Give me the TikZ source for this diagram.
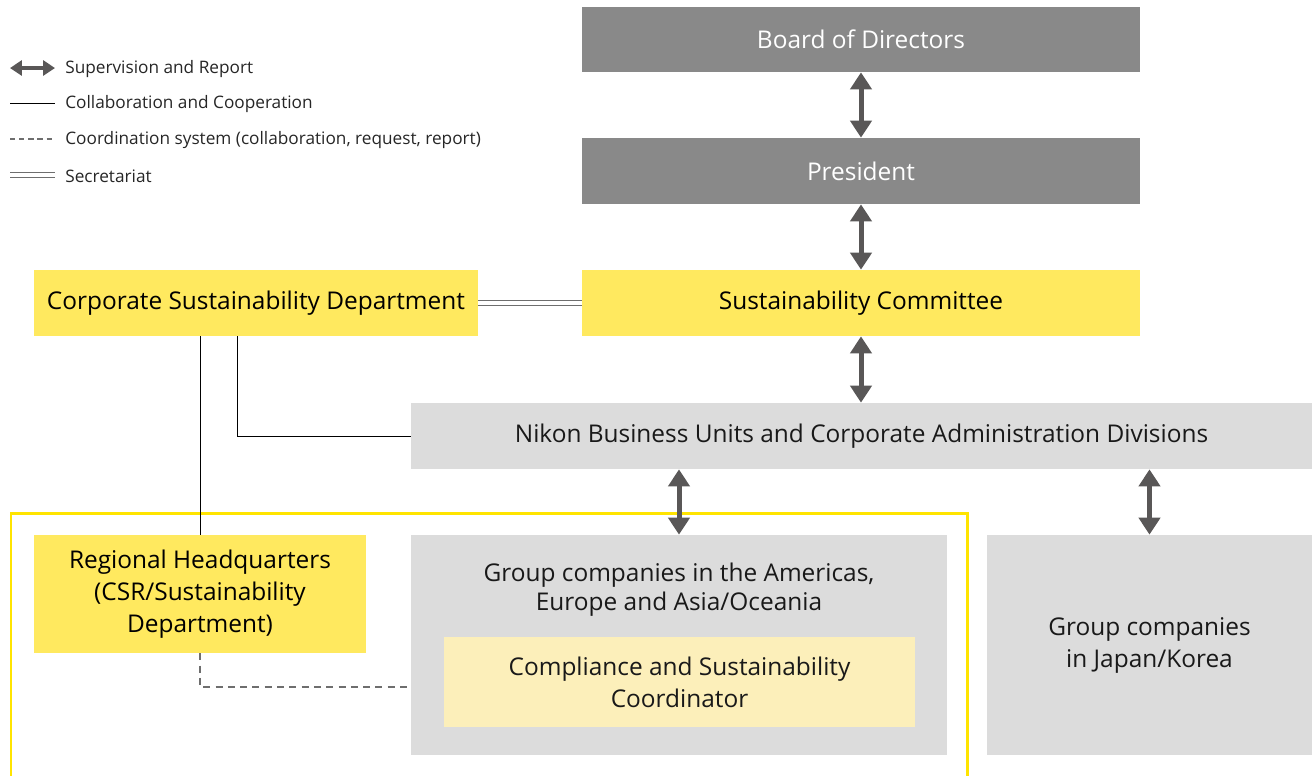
\documentclass[tikz,border=0pt]{standalone}
\usepackage{fontspec}
\setmainfont{Open Sans}
\usetikzlibrary{arrows.meta}
\definecolor{darkbox}{HTML}{898989}
\definecolor{lightbox}{HTML}{DCDCDC}
\definecolor{yellowbox}{HTML}{FFE95F}
\definecolor{paleyellow}{HTML}{FCEFBA}
\definecolor{framey}{HTML}{FFE400}
\definecolor{arrowgray}{HTML}{595757}
\definecolor{linegray}{HTML}{6E6E6E}
\tikzset{
  box/.style 2 args={% #1=width, #2=height (in px)
    minimum width=#1*0.02cm, minimum height=#2*0.02cm, inner sep=0pt,
    align=center, font=\fontsize{13.9}{18.2}\selectfont},
  topbox/.style={fill=darkbox, text=white},
  unitbox/.style={fill=lightbox, text=black!90},
  keybox/.style={fill=yellowbox, text=black},
  coordbox/.style={fill=paleyellow, text=black!90},
  report/.style={draw=arrowgray, line width=0.1cm,
    {Triangle[width=0.42cm,length=0.34cm]}-{Triangle[width=0.42cm,length=0.34cm]}},
  collab/.style={draw=black, line width=0.5pt},
  coordination/.style={draw=linegray, line width=0.7pt, dash pattern=on 4pt off 3pt},
  secretariat/.style={draw=linegray, line width=0.5pt, double=white, double distance=0.07cm},
  legendtext/.style={anchor=west, inner sep=0pt, font=\fontsize{9.8}{11}\selectfont, text=black!85}
}
\begin{document}
\begin{tikzpicture}[x=0.02cm, y=-0.02cm]
  \useasboundingbox (0,0) rectangle (1316,775);

  % legend
  \draw[draw=arrowgray, line width=0.08cm,
    {Triangle[width=0.3cm,length=0.24cm]}-{Triangle[width=0.3cm,length=0.24cm]}]
    (10,68) coordinate (lg1a) -- (55,68) coordinate (lg1b);
  \node[legendtext] (lgt1) at (65,69.5) {Supervision and Report};
  \draw[collab] (10,103) coordinate (lg2a) -- (55,103) coordinate (lg2b);
  \node[legendtext] (lgt2) at (65,104.5) {Collaboration and Cooperation};
  \draw[coordination, dash pattern=on 3pt off 2.2pt] (10,139) coordinate (lg3a) -- (55,139) coordinate (lg3b);
  \node[legendtext] (lgt3) at (65,140.5) {Coordination system (collaboration, request, report)};
  \draw[secretariat] (10,175) coordinate (lg4a) -- (55,175) coordinate (lg4b);
  \node[legendtext] (lgt4) at (65,176.5) {Secretariat};

  % overseas frame
  \draw[framey, line width=0.06cm] (11,790) -- (11,513) -- (967,513) -- (967,790);

  % boxes
  \node[box={558}{65}, topbox] (board) at (861,39.5) {Board of Directors};
  \node[box={558}{66}, topbox] (president) at (861,171) {President};
  \node[box={558}{66}, keybox] (committee) at (861,303) {Sustainability Committee};
  \node[box={444}{66}, keybox] (csd) at (256,303) {Corporate Sustainability Department};
  \node[box={901}{66}, unitbox] (nikon) at (861.5,436) {Nikon Business Units and Corporate Administration Divisions};
  \node[box={332}{118}, keybox] (rhq) at (200,594) {Regional Headquarters\\(CSR/Sustainability\\Department)};
  \node[box={536}{220}, unitbox] (overseas) at (679,645) {};
  \node[box={536}{60}, text=black!90, font=\fontsize{13.9}{16.5}\selectfont] (overseas-text) at (679,590) {Group companies in the Americas,\\Europe and Asia/Oceania};
  \node[box={471}{90}, coordbox] (coordinator) at (679.5,682) {Compliance and Sustainability\\Coordinator};
  \node[box={325}{220}, unitbox] (japan) at (1149.5,645) {Group companies\\in Japan/Korea};

  % connections
  \draw[secretariat] (csd.east) -- (committee.west);
  \draw[collab] (csd.south -| rhq.north) -- (rhq.north);
  \draw[collab] (237,336) coordinate (csd-out) |- (nikon.west);
  \draw[coordination] (rhq.south) |- (overseas.west |- 0,687);

  % supervision and report
  \draw[report] (board.south) -- (president.north);
  \draw[report] (president.south) -- (committee.north);
  \draw[report] (committee.south) -- (nikon.north -| committee.south);
  \draw[report] (nikon.south -| overseas.north) -- (overseas.north);
  \draw[report] (nikon.south -| japan.north) -- (japan.north);
\end{tikzpicture}
\end{document}
